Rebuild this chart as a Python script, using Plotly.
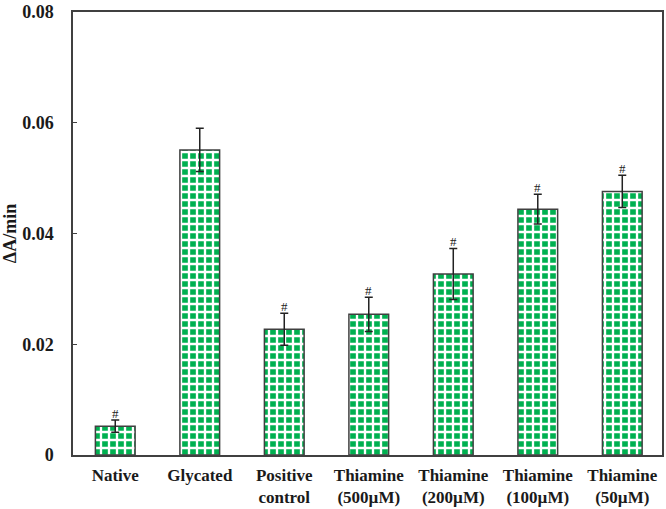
import plotly.graph_objects as go

GREEN = '#00b050'
EDGE = '#404040'
FONT = 'Liberation Serif'

categories = ['Native', 'Glycated', 'Positive<br>control', 'Thiamine<br>(500µM)',
              'Thiamine<br>(200µM)', 'Thiamine<br>(100µM)', 'Thiamine<br>(50µM)']
values = [0.0052, 0.0551, 0.0227, 0.0254, 0.0327, 0.0444, 0.0476]
errors = [0.0011, 0.0039, 0.0029, 0.0031, 0.0046, 0.0027, 0.0029]
marks = ['#', '', '#', '#', '#', '#', '#']
y_ticks = [0, 0.02, 0.04, 0.06, 0.08]
y_labels = ['0', '0.02', '0.04', '0.06', '0.08']

fig = go.Figure()

fig.add_trace(go.Bar(
    x=categories, y=values, width=0.47,
    marker=dict(color=GREEN, line=dict(color=EDGE, width=1.5),
                pattern=dict(shape='+', fgcolor='white', bgcolor=GREEN,
                             size=8, solidity=0.5, fillmode='replace')),
    error_y=dict(type='data', array=errors, color='#222222', thickness=1.5, width=4),
    showlegend=False,
))

for cat, v, e, m in zip(categories, values, errors, marks):
    if m:
        fig.add_annotation(x=cat, y=v + e, text=m, showarrow=False,
                           yanchor='bottom', yshift=-3,
                           font=dict(family=FONT, size=13, color='#222222'))

fig.update_layout(
    width=666, height=509,
    margin=dict(l=73, r=2, t=7, b=52),
    plot_bgcolor='white', paper_bgcolor='white',
    font=dict(family=FONT, color='#1a1a1a'),
)

fig.update_xaxes(
    range=[-0.5, 6.47], showline=True, mirror=True, linecolor=EDGE, linewidth=1.5,
    ticks='', showgrid=False, tickangle=0, ticklabelstandoff=4,
    tickfont=dict(family=FONT, size=17, weight='bold', color='#1a1a1a'),
)

fig.update_yaxes(
    range=[0, 0.08], tickvals=y_ticks, ticktext=y_labels, ticklabeloverflow='allow',
    showline=True, mirror=True, linecolor=EDGE, linewidth=1.5,
    ticks='inside', ticklen=4, tickcolor=EDGE, showgrid=False, zeroline=False,
    ticklabelstandoff=14,
    tickfont=dict(family=FONT, size=18, weight='bold', color='#1a1a1a'),
    title=dict(text='ΔA/min', standoff=6,
               font=dict(family=FONT, size=18, weight='bold', color='#1a1a1a')),
)

fig.write_html("out.html", config={'displayModeBar': False},
               post_script="document.body.style.margin='0';")
